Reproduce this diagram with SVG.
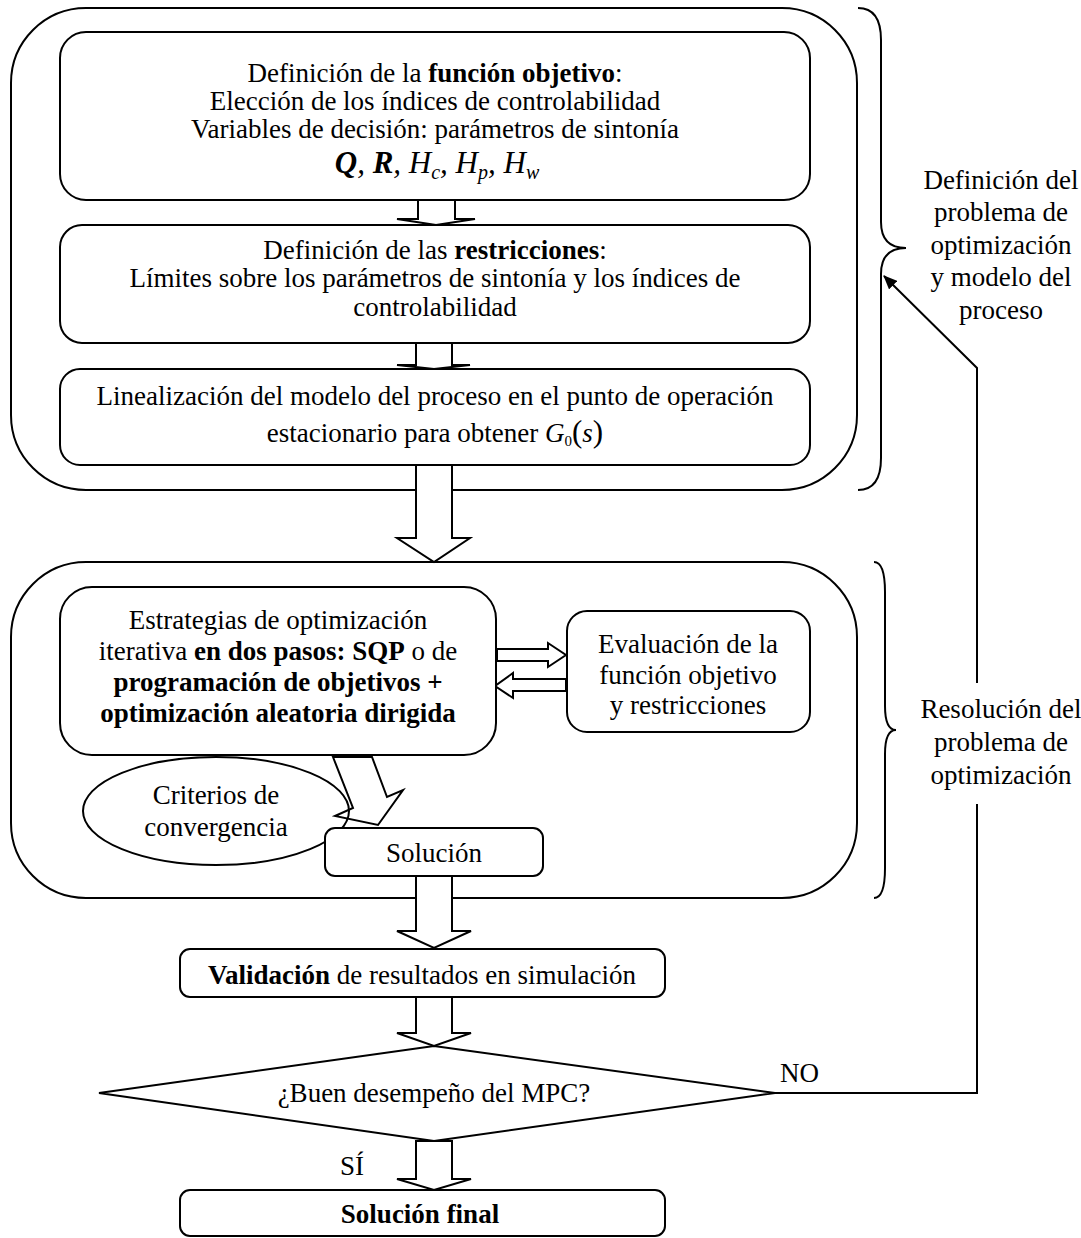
<svg xmlns="http://www.w3.org/2000/svg" width="1081" height="1238" viewBox="0 0 1081 1238" font-family="'Liberation Serif', 'Times New Roman', Times, serif" font-size="27">
  <defs>
    <style>
      text { font-family: 'Liberation Serif', 'Times New Roman', Times, serif; font-size: 27px; fill: #000; }
      .c { text-anchor: middle; }
      .b { font-weight: bold; }
      .i { font-style: italic; }
      .box { fill: #fff; stroke: #000; stroke-width: 2; }
      .frame { fill: none; stroke: #000; stroke-width: 2; }
      .blk { fill: #fff; stroke: #000; stroke-width: 2; stroke-linejoin: miter; }
      .line { fill: none; stroke: #000; stroke-width: 2; }
    </style>
    <marker id="head" viewBox="0 0 14 12" refX="13" refY="6" markerWidth="14" markerHeight="12" markerUnits="userSpaceOnUse" orient="auto">
      <path d="M0,0 L14,6 L0,12 z" fill="#000"/>
    </marker>
  </defs>
  <rect width="1081" height="1238" fill="#fff"/>

  <!-- group frames -->
  <g id="frame-definition">
    <rect class="frame" x="11" y="8" width="846" height="482" rx="75" ry="75"/>
  </g>
  <g id="frame-resolution">
    <rect class="frame" x="11" y="562" width="846" height="336" rx="75" ry="75"/>
  </g>

  <!-- connectors -->
  <g id="connectors">
    <polygon class="blk" points="418,200 455,200 455,219 475,219 436,225 397,219 418,219"/>
    <polygon class="blk" points="416,343 452,343 452,365 470,365 434,369 397,365 416,365"/>
    <polygon class="blk" points="416,465 452,465 452,538 470,538 434,562 397,538 416,538"/>
    <polygon class="blk" points="497,649 548,649 548,643 566,655 548,667 548,661 497,661"/>
    <polygon class="blk" points="566,679 513,679 513,673 495,686 513,698 513,691 566,691"/>
    <polygon class="blk" points="333,757 353,808 335,816 378,825 403,790 387,797 372,757"/>
    <polygon class="blk" points="416,876 452,876 452,931 471,931 434,948 397,931 416,931"/>
    <polygon class="blk" points="416,997 452,997 452,1033 471,1033 434,1046 397,1033 416,1033"/>
    <polygon class="blk" points="416,1141 452,1141 452,1179 471,1179 434,1190 397,1179 416,1179"/>
    <path class="line" d="M775,1093 L977,1093 L977,804 M977,683 L977,368 L884,276" marker-end="url(#head)"/>
    <path class="line" d="M858,8 Q881,8 881,40 L881,222 Q881,248 906,248 Q881,248 881,274 L881,458 Q881,490 858,490"/>
    <path class="line" d="M874,562 Q885,562 885,592 L885,706 Q885,730 896,730 Q885,730 885,754 L885,868 Q885,898 874,898"/>
    <text x="780" y="1082">NO</text>
    <text x="340" y="1175">SÍ</text>
  </g>

  <!-- objective function -->
  <g id="node-objective">
    <rect class="box" x="60" y="32" width="750" height="168" rx="26"/>
    <text class="c" x="435" y="82">Definición de la <tspan class="b">función objetivo</tspan>:</text>
    <text class="c" x="435" y="110">Elección de los índices de controlabilidad</text>
    <text class="c" x="435" y="138">Variables de decisión: parámetros de sintonía</text>
    <text class="c i" x="437" y="173" style="font-size:31px"><tspan class="b">Q</tspan>, <tspan class="b">R</tspan>, H<tspan font-size="20" dy="6">c</tspan><tspan dy="-6">, H</tspan><tspan font-size="20" dy="6">p</tspan><tspan dy="-6">, H</tspan><tspan font-size="20" dy="6">w</tspan></text>
  </g>

  <!-- constraints -->
  <g id="node-constraints">
    <rect class="box" x="60" y="225" width="750" height="118" rx="22"/>
    <text class="c" x="435" y="259">Definición de las <tspan class="b">restricciones</tspan>:</text>
    <text class="c" x="435" y="287">Límites sobre los parámetros de sintonía y los índices de</text>
    <text class="c" x="435" y="316">controlabilidad</text>
  </g>

  <!-- linearisation -->
  <g id="node-linearization">
    <rect class="box" x="60" y="369" width="750" height="96" rx="20"/>
    <text class="c" x="435" y="405">Linealización del modelo del proceso en el punto de operación</text>
    <text class="c" x="435" y="442">estacionario para obtener  <tspan class="i">G</tspan><tspan font-size="15" dy="4">0</tspan><tspan dy="-4" font-size="31">(</tspan><tspan class="i">s</tspan><tspan font-size="31">)</tspan></text>
  </g>

  <!-- optimisation strategy -->
  <g id="node-strategy">
    <rect class="box" x="60" y="587" width="436" height="168" rx="32"/>
    <text class="c" x="278" y="629">Estrategias de optimización</text>
    <text class="c" x="278" y="660">iterativa <tspan class="b">en dos pasos: SQP</tspan> o de</text>
    <text class="c b" x="278" y="691">programación de objetivos +</text>
    <text class="c b" x="278" y="722">optimización aleatoria dirigida</text>
  </g>

  <!-- evaluation -->
  <g id="node-evaluation">
    <rect class="box" x="567" y="611" width="243" height="121" rx="20"/>
    <text class="c" x="688" y="653">Evaluación de la</text>
    <text class="c" x="688" y="684">función objetivo</text>
    <text class="c" x="688" y="714">y restricciones</text>
  </g>

  <!-- convergence criteria -->
  <g id="node-criteria">
    <ellipse cx="216" cy="811" rx="133" ry="54" fill="none" stroke="#000" stroke-width="2"/>
    <text class="c" x="216" y="804">Criterios de</text>
    <text class="c" x="216" y="836">convergencia</text>
  </g>

  <!-- solution -->
  <g id="node-solution">
    <rect class="box" x="325" y="828" width="218" height="48" rx="10"/>
    <text class="c" x="434" y="862">Solución</text>
  </g>

  <!-- validation -->
  <g id="node-validation">
    <rect class="box" x="180" y="949" width="485" height="48" rx="10"/>
    <text class="c" x="422" y="984"><tspan class="b">Validación</tspan> de resultados en simulación</text>
  </g>

  <!-- decision -->
  <g id="node-decision">
    <polygon class="box" points="434,1046 775,1093 434,1141 99,1093"/>
    <text class="c" x="434" y="1102">¿Buen desempeño del MPC?</text>
  </g>

  <!-- final solution -->
  <g id="node-final">
    <rect class="box" x="180" y="1190" width="485" height="46" rx="10"/>
    <text class="c b" x="420" y="1223">Solución final</text>
  </g>

  <!-- side labels -->
  <g id="label-definition">
    <text class="c" x="1001" y="189">Definición del</text>
    <text class="c" x="1001" y="221">problema de</text>
    <text class="c" x="1001" y="254">optimización</text>
    <text class="c" x="1001" y="286">y modelo del</text>
    <text class="c" x="1001" y="319">proceso</text>
  </g>
  <g id="label-resolution">
    <text class="c" x="1001" y="718">Resolución del</text>
    <text class="c" x="1001" y="751">problema de</text>
    <text class="c" x="1001" y="784">optimización</text>
  </g>
</svg>
